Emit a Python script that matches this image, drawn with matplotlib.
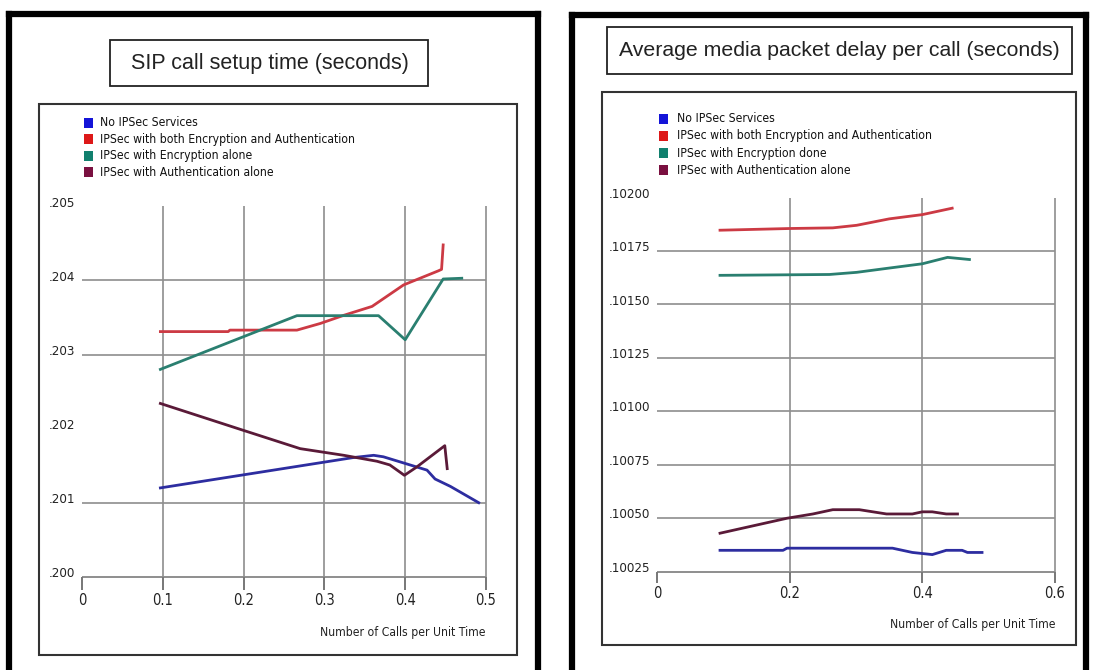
import matplotlib
matplotlib.use("Agg")
import matplotlib.pyplot as plt
from matplotlib.patches import Rectangle
from matplotlib.lines import Line2D
from matplotlib.transforms import ScaledTranslation

# ---------------- data ----------------
series_names = [
    "No IPSec Services",
    "IPSec with both Encryption and Authentication",
    "IPSec with Encryption alone",
    "IPSec with Authentication alone",
]
right_legend_names = [
    "No IPSec Services",
    "IPSec with both Encryption and Authentication",
    "IPSec with Encryption done",
    "IPSec with Authentication alone",
]

# SIP call setup time (seconds)
setup_none_x = [0.097, 0.336, 0.361, 0.373, 0.406, 0.427, 0.437, 0.456, 0.491]
setup_none_y = [0.20120, 0.20161, 0.20164, 0.20162, 0.20151, 0.20144, 0.20132, 0.20122, 0.20100]
setup_both_x = [0.097, 0.181, 0.183, 0.266, 0.295, 0.324, 0.359, 0.398, 0.441, 0.445, 0.447]
setup_both_y = [0.20331, 0.20331, 0.20333, 0.20333, 0.20342, 0.20353, 0.20365, 0.20394, 0.20413, 0.20415, 0.20448]
setup_enc_x = [0.097, 0.266, 0.367, 0.400, 0.447, 0.470]
setup_enc_y = [0.20280, 0.203525, 0.203525, 0.20320, 0.20402, 0.20403]
setup_auth_x = [0.097, 0.196, 0.270, 0.324, 0.365, 0.381, 0.399, 0.414, 0.449, 0.452]
setup_auth_y = [0.20234, 0.20199, 0.20173, 0.20164, 0.20156, 0.20151, 0.20137, 0.20148, 0.20177, 0.20146]

setup_xticks = [0, 0.1, 0.2, 0.3, 0.4, 0.5]
setup_xticklabels = ["0", "0.1", "0.2", "0.3", "0.4", "0.5"]
setup_yticks = [0.200, 0.201, 0.202, 0.203, 0.204, 0.205]
setup_yticklabels = [".200", ".201", ".202", ".203", ".204", ".205"]
setup_hgrid = [0.201, 0.203, 0.204]
setup_vgrid = [0.1, 0.2, 0.3, 0.4, 0.5]

# Average media packet delay per call (seconds)
delay_none_x = [0.095, 0.190, 0.196, 0.355, 0.385, 0.415, 0.436, 0.460, 0.468, 0.490]
delay_none_y = [0.10035, 0.10035, 0.10036, 0.10036, 0.10034, 0.10033, 0.10035, 0.10035, 0.10034, 0.10034]
delay_both_x = [0.095, 0.200, 0.265, 0.301, 0.350, 0.400, 0.445]
delay_both_y = [0.101847, 0.101855, 0.101858, 0.10187, 0.10190, 0.10192, 0.10195]
delay_enc_x = [0.095, 0.260, 0.301, 0.350, 0.400, 0.438, 0.471]
delay_enc_y = [0.101636, 0.10164, 0.10165, 0.10167, 0.10169, 0.10172, 0.10171]
delay_auth_x = [0.095, 0.196, 0.235, 0.265, 0.305, 0.346, 0.385, 0.400, 0.415, 0.436, 0.453]
delay_auth_y = [0.10043, 0.10050, 0.10052, 0.10054, 0.10054, 0.10052, 0.10052, 0.10053, 0.10053, 0.10052, 0.10052]

delay_xticks = [0, 0.2, 0.4, 0.6]
delay_xticklabels = ["0", "0.2", "0.4", "0.6"]
delay_yticks = [0.10025, 0.10050, 0.10075, 0.10100, 0.10125, 0.10150, 0.10175, 0.10200]
delay_yticklabels = [".10025", ".10050", ".10075", ".10100", ".10125", ".10150", ".10175", ".10200"]
delay_hgrid = [0.10050, 0.10075, 0.10100, 0.10125, 0.10150, 0.10175]
delay_vgrid = [0.2, 0.4, 0.6]

# ---------------- styling ----------------
line_colors = ["#2d2da0", "#cc3a44", "#2a7f70", "#5a1a38"]
swatch_colors = ["#1414d8", "#dd1818", "#11806e", "#7a1040"]
GRID = "#8e8e8e"
NARROW = dict(family=["DejaVu Sans"], stretch="condensed")
TITLE_FONT = ["Liberation Sans", "DejaVu Sans"]

W, H = 1093, 670
fig = plt.figure(figsize=(W / 100, H / 100), dpi=100)
fig.patch.set_facecolor("white")


def fx(px):
    return px / W


def fy(py):
    return 1 - py / H


def fig_line(x0, y0, x1, y1, lw, color="black"):
    fig.add_artist(Line2D([fx(x0), fx(x1)], [fy(y0), fy(y1)], transform=fig.transFigure,
                          lw=lw, color=color, solid_capstyle="projecting"))


def fig_box(x0, y0, x1, y1, lw, color):
    fig.add_artist(Rectangle((fx(x0), fy(y1)), fx(x1) - fx(x0), fy(y0) - fy(y1),
                             transform=fig.transFigure, fill=False, lw=lw, ec=color))


# outer black frames (open at the bottom)
for (l, r, t) in [(9, 538, 14), (572, 1086, 15)]:
    fig_line(l, t, l, H + 5, 4.5)
    fig_line(r, t, r, H + 5, 4.5)
    fig_line(l, t, r, t, 4.5)

# title boxes
fig_box(110, 40, 428, 86, 1.3, "#222222")
fig.text(fx(270), fy(63), "SIP call setup time (seconds)", ha="center", va="center",
         fontsize=15.5, color="#222222", family=TITLE_FONT)
fig_box(607, 27, 1072, 74, 1.3, "#222222")
fig.text(fx(839), fy(50), "Average media packet delay per call (seconds)", ha="center", va="center",
         fontsize=15.3, color="#222222", family=TITLE_FONT)

# inner chart boxes
fig_box(39, 104, 517, 655, 1.5, "#333333")
fig_box(602, 92, 1076, 645, 1.5, "#333333")


def legend(x_sq, x_txt, rows, names):
    for name, col, row in zip(names, swatch_colors, rows):
        fig.add_artist(Rectangle((fx(x_sq), fy(row + 5)), 9 / W, 10 / H, transform=fig.transFigure,
                                 fc=col, ec="none"))
        fig.text(fx(x_txt), fy(row), name, ha="left", va="center", fontsize=8.7,
                 color="#111111", **NARROW)


legend(84, 100, [123, 139, 156, 172], series_names)
legend(659, 677, [119, 136, 153, 170], right_legend_names)


def setup_axes(rect, xlim, ylim, hgrid, vgrid, xticks, xticklabels, yticks, yticklabels,
               ticklen, xlabel, xlabel_y):
    ax = fig.add_axes(rect)
    ax.set_xlim(*xlim)
    ax.set_ylim(*ylim)
    ax.patch.set_alpha(0)
    for s in ax.spines.values():
        s.set_visible(False)
    ax.hlines(hgrid, xlim[0], xlim[1], color=GRID, lw=1.2, zorder=1, clip_on=False)
    ax.vlines(vgrid, ylim[0], ylim[1], color=GRID, lw=1.2, zorder=1, clip_on=False)
    ax.hlines([ylim[0]], xlim[0], xlim[1], color=GRID, lw=1.4, zorder=1, clip_on=False)
    ax.set_xticks(xticks)
    ax.set_xticklabels(xticklabels, fontsize=10.5, color="#222222", **NARROW)
    ax.tick_params(axis="x", direction="out", length=ticklen, width=1.4, color="#777777", pad=2)
    ax.set_yticks(yticks)
    ax.set_yticklabels(yticklabels, fontsize=9.5, color="#222222", **NARROW)
    ax.tick_params(axis="y", length=0, pad=5)
    for lab in ax.get_yticklabels():
        lab.set_transform(lab.get_transform() + ScaledTranslation(0, 3.5 / 72, fig.dpi_scale_trans))
    ax.text(1.0, 0, xlabel, transform=ax.transAxes + ScaledTranslation(0, -xlabel_y / 100, fig.dpi_scale_trans),
            ha="right", va="center", fontsize=8.7, color="#222222", **NARROW)
    return ax


ax1 = setup_axes([fx(82), fy(576.8), (486 - 82) / W, (576.8 - 206.4) / H],
                 (0, 0.5), (0.200, 0.205), setup_hgrid, setup_vgrid,
                 setup_xticks, setup_xticklabels, setup_yticks, setup_yticklabels,
                 9.5, "Number of Calls per Unit Time", 56)
for xs, ys, c in zip([setup_none_x, setup_both_x, setup_enc_x, setup_auth_x],
                     [setup_none_y, setup_both_y, setup_enc_y, setup_auth_y], line_colors):
    ax1.plot(xs, ys, color=c, lw=2.0, zorder=3, clip_on=False, solid_joinstyle="round")

ax2 = setup_axes([fx(657), fy(571.7), (1055 - 657) / W, (571.7 - 197.5) / H],
                 (0, 0.6), (0.10025, 0.10200), delay_hgrid, delay_vgrid,
                 delay_xticks, delay_xticklabels, delay_yticks, delay_yticklabels,
                 8, "Number of Calls per Unit Time", 53)
for xs, ys, c in zip([delay_none_x, delay_both_x, delay_enc_x, delay_auth_x],
                     [delay_none_y, delay_both_y, delay_enc_y, delay_auth_y], line_colors):
    ax2.plot(xs, ys, color=c, lw=2.0, zorder=3, clip_on=False, solid_joinstyle="round")

fig.savefig("out.png", dpi=100)
